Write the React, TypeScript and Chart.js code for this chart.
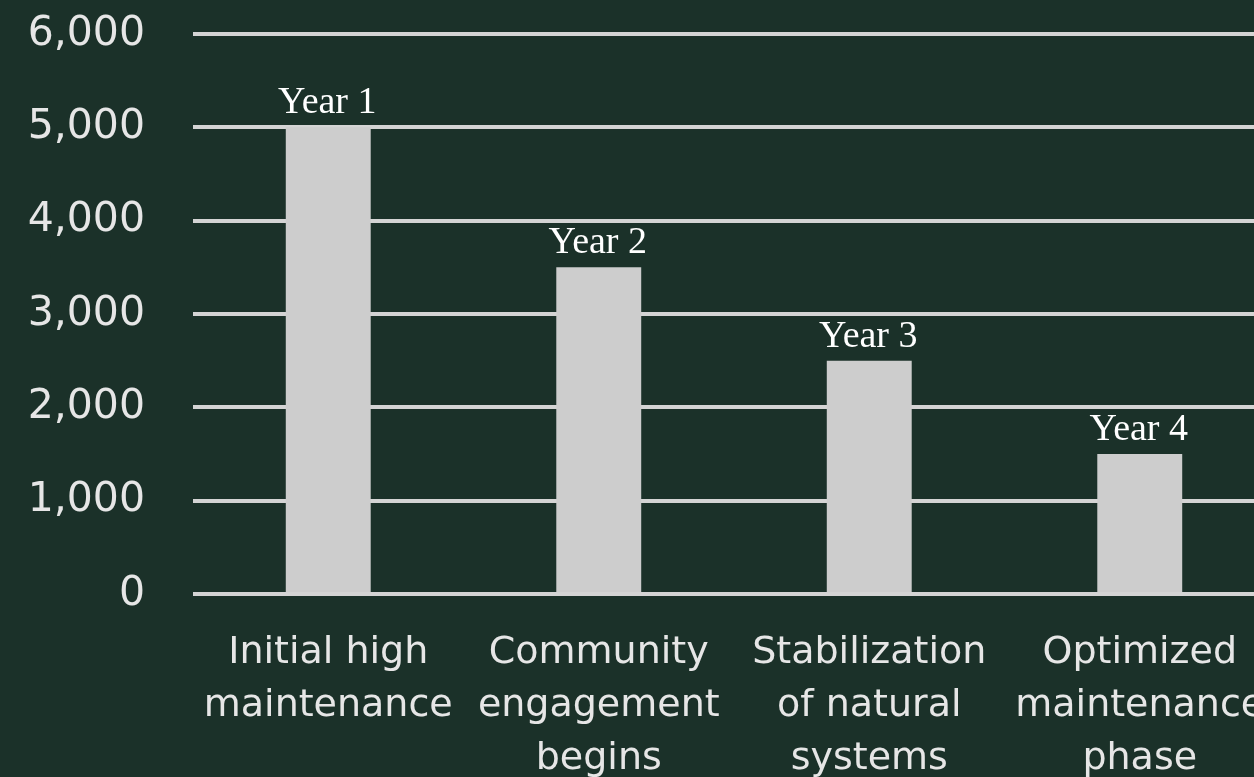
import React, { useEffect, useRef } from "react";
import { Chart, registerables } from "chart.js";

Chart.register(...registerables);

const categories: string[][] = [
  ["Initial high", "maintenance"],
  ["Community", "engagement", "begins"],
  ["Stabilization", "of natural", "systems"],
  ["Optimized", "maintenance", "phase"],
];
const yearLabels: string[] = ["Year 1", "Year 2", "Year 3", "Year 4"];
const costValues: number[] = [5000, 3500, 2500, 1500];
const yTickValues: number[] = [0, 1000, 2000, 3000, 4000, 5000, 6000];

const BG = "#1b3129";

export default function App() {
  const ref = useRef<HTMLCanvasElement | null>(null);

  useEffect(() => {
    const canvas = ref.current;
    if (!canvas) return;

    const bgPlugin = {
      id: "bg",
      beforeDraw(chart: any) {
        const ctx = chart.ctx;
        ctx.save();
        ctx.fillStyle = BG;
        ctx.fillRect(0, 0, chart.width, chart.height);
        ctx.restore();
      },
    };

    const yearPlugin = {
      id: "yearLabels",
      afterDatasetsDraw(chart: any) {
        const ctx = chart.ctx;
        const meta = chart.getDatasetMeta(0);
        ctx.save();
        ctx.font = '38px "Liberation Serif", "Times New Roman", serif';
        ctx.fillStyle = "#ffffff";
        ctx.textAlign = "center";
        ctx.textBaseline = "alphabetic";
        meta.data.forEach((bar: any, i: number) => {
          ctx.fillText(yearLabels[i], bar.x - 1, bar.y - 14);
        });
        ctx.restore();
      },
    };

    const chart = new Chart(canvas, {
      type: "bar",
      data: {
        labels: categories,
        datasets: [
          {
            data: costValues,
            backgroundColor: "#cdcdcd",
            borderWidth: 0,
            categoryPercentage: 1,
            barPercentage: 0.314,
          },
        ],
      },
      options: {
        animation: false,
        responsive: false,
        devicePixelRatio: 1,
        layout: { padding: { top: 34, right: 30, bottom: 0, left: 0 } },
        plugins: {
          legend: { display: false },
          tooltip: { enabled: false },
          title: { display: false },
        },
        scales: {
          x: {
            grid: { display: false, drawTicks: false },
            border: { display: false },
            ticks: {
              color: "#e6e6e6",
              font: { family: '"DejaVu Sans", sans-serif', size: 38, lineHeight: 1.39 },
              padding: 33,
              maxRotation: 0,
              autoSkip: false,
            },
            afterFit(scale: any) {
              scale.height = 206;
              scale.paddingLeft = 0;
              scale.paddingRight = 0;
            },
          },
          y: {
            min: 0,
            max: 6000,
            afterBuildTicks(scale: any) {
              scale.ticks = yTickValues.map((v) => ({ value: v }));
            },
            grid: {
              color: "#d4d4d4",
              lineWidth: 4,
              drawTicks: false,
            },
            border: { display: false },
            ticks: {
              color: "#e6e6e6",
              font: { family: '"DejaVu Sans", sans-serif', size: 41 },
              padding: 48,
              callback: (v: any) => Number(v).toLocaleString("en-US"),
            },
            afterFit(scale: any) {
              scale.width = 193;
              scale.paddingTop = 0;
              scale.paddingBottom = 0;
            },
          },
        },
      },
      plugins: [bgPlugin, yearPlugin],
    });

    return () => chart.destroy();
  }, []);

  return (
    <div
      style={{
        position: "fixed",
        left: 0,
        top: 0,
        width: 1254,
        height: 777,
        overflow: "hidden",
        background: BG,
      }}
    >
      <canvas
        ref={ref}
        width={1305}
        height={800}
        style={{ position: "absolute", left: 0, top: 0, width: 1305, height: 800 }}
      />
    </div>
  );
}
